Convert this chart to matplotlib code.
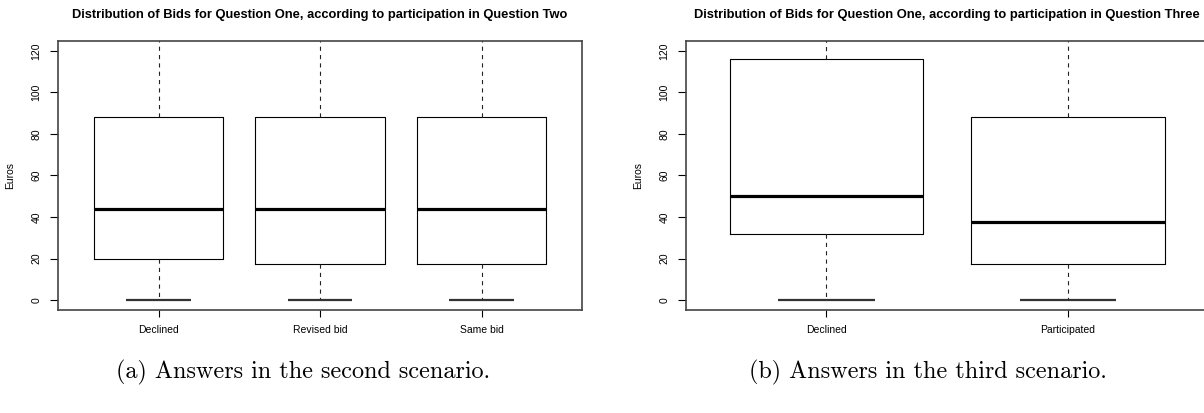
import matplotlib
matplotlib.use("Agg")
import matplotlib.pyplot as plt

plt.rcParams['font.family'] = ['Liberation Sans', 'DejaVu Sans']
plt.rcParams['lines.scale_dashes'] = False

# Panel (a) data
cats_a = ["Declined", "Revised bid", "Same bid"]
q1_a = [20, 17.5, 17.5]
med_a = [44, 44, 44]
q3_a = [88, 88, 88]
whislo_a = [0, 0, 0]
whishi_a = [150, 150, 150]

# Panel (b) data
cats_b = ["Declined", "Participated"]
q1_b = [32, 17.5]
med_b = [50, 37.5]
q3_b = [116, 88]
whislo_b = [0, 0]
whishi_b = [150, 150]

title_a = "Distribution of Bids for Question One, according to participation in Question Two"
title_b = "Distribution of Bids for Question One, according to participation in Question Three"
cap_a = "(a) Answers in the second scenario."
cap_b = "(b) Answers in the third scenario."
yticks = [0, 20, 40, 60, 80, 100, 120]

W, H = 1204, 413
fig = plt.figure(figsize=(W / 100, H / 100), dpi=100)

top = 41
bot = 310

def draw(ax, cats, q1, med, q3, lo, hi, title):
    n = len(cats)
    stats = [dict(med=m, q1=a, q3=b, whislo=l, whishi=h, fliers=[], label=c)
             for c, a, m, b, l, h in zip(cats, q1, med, q3, lo, hi)]
    ax.bxp(stats, positions=list(range(1, n + 1)), widths=0.8, capwidths=0.4,
           showfliers=False, manage_ticks=False,
           boxprops=dict(color='black', linewidth=0.8),
           medianprops=dict(color='black', linewidth=2.3, solid_capstyle='butt'),
           whiskerprops=dict(color='#222222', linewidth=0.8, linestyle=(0, (3, 3))),
           capprops=dict(color='#333333', linewidth=1.6, solid_capstyle='butt'))
    span = n
    ax.set_xlim(0.5 - 0.04 * span, n + 0.5 + 0.04 * span)
    ax.set_ylim(0 - 0.04 * 120, 120 + 0.04 * 120)
    ax.set_xticks(range(1, n + 1))
    ax.set_xticklabels(cats, fontsize=7.5)
    ax.set_yticks(yticks)
    ax.set_yticklabels([str(v) for v in yticks], fontsize=7.5, rotation=90, va='center')
    ax.tick_params(axis='y', length=6, width=0.8, pad=6)
    ax.tick_params(axis='x', length=5, width=0.8, pad=6)
    for s in ax.spines.values():
        s.set_color('#444444')
        s.set_linewidth(1.2)
    ax.set_ylabel("Euros", fontsize=7.5, labelpad=10)
    ax.text(0.5, 1 + 26 / (bot - top), title, transform=ax.transAxes,
            fontsize=9.3, fontweight='bold', ha='center', va='center')

ax1 = fig.add_axes([58.3 / W, 1 - bot / H, (582 - 58.3) / W, (bot - top) / H])
ax2 = fig.add_axes([686 / W, 1 - bot / H, (1208 - 686) / W, (bot - top) / H])
draw(ax1, cats_a, q1_a, med_a, q3_a, whislo_a, whishi_a, title_a)
draw(ax2, cats_b, q1_b, med_b, q3_b, whislo_b, whishi_b, title_b)
ax1.yaxis.set_label_coords(-(58.3 - 15) / (582 - 58.3), 0.5)
ax2.yaxis.set_label_coords(-(686 - 643) / (1208 - 686), 0.5)

fig.text(303.5 / W, 1 - 372 / H, cap_a, fontsize=17.4, family='cmr10', ha='center', va='center')
fig.text(928 / W, 1 - 372 / H, cap_b, fontsize=17.4, family='cmr10', ha='center', va='center')

fig.savefig("out.png", dpi=100)
